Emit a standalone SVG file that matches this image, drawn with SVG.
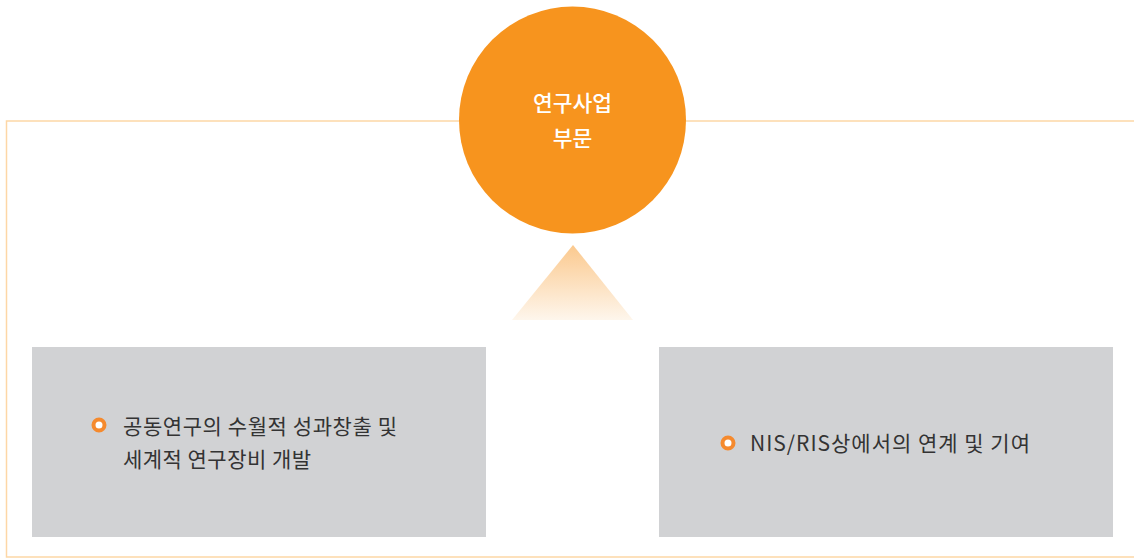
<svg xmlns="http://www.w3.org/2000/svg" width="1134" height="558" viewBox="0 0 1134 558">
<style>
.frame{fill:none;stroke:#fdd7a6;stroke-width:1.5}
.box{fill:#d1d2d4}
.bt{font-family:"Noto Sans CJK KR","Noto Sans",sans-serif;font-size:21px;fill:#333333}
.ct{font-family:"Noto Sans CJK KR","Noto Sans",sans-serif;font-size:21.5px;font-weight:500;fill:#ffffff;text-anchor:middle}
.bullet{fill:#ffffff;stroke:#f58a2e;stroke-width:4}
</style>
<defs>
<linearGradient id="tg" x1="0" y1="0" x2="0" y2="1">
<stop offset="0" stop-color="#fbc98e"/>
<stop offset="1" stop-color="#fef6ec"/>
</linearGradient>
</defs>
<g id="connectors">
<path class="frame" d="M1134,121 H6.5 V557 H1134"/>
<polygon points="573,245 512,320 633,320" fill="url(#tg)"/>
</g>
<g id="center">
<circle cx="572.5" cy="120" r="113.5" fill="#f7941e"/>
<text class="ct" x="572.5" y="111">연구사업</text>
<text class="ct" x="572.5" y="146">부문</text>
</g>
<g id="left">
<rect class="box" x="32" y="347" width="454" height="190"/>
<circle class="bullet" cx="99" cy="425" r="5.5"/>
<text class="bt" x="123" y="434" textLength="274" lengthAdjust="spacing">공동연구의 수월적 성과창출 및</text>
<text class="bt" x="123" y="467" textLength="188" lengthAdjust="spacing">세계적 연구장비 개발</text>
</g>
<g id="right">
<rect class="box" x="659" y="347" width="454" height="190"/>
<circle class="bullet" cx="728" cy="443" r="5.5"/>
<text class="bt" x="750" y="451" textLength="280" lengthAdjust="spacing">NIS/RIS상에서의 연계 및 기여</text>
</g>
</svg>
